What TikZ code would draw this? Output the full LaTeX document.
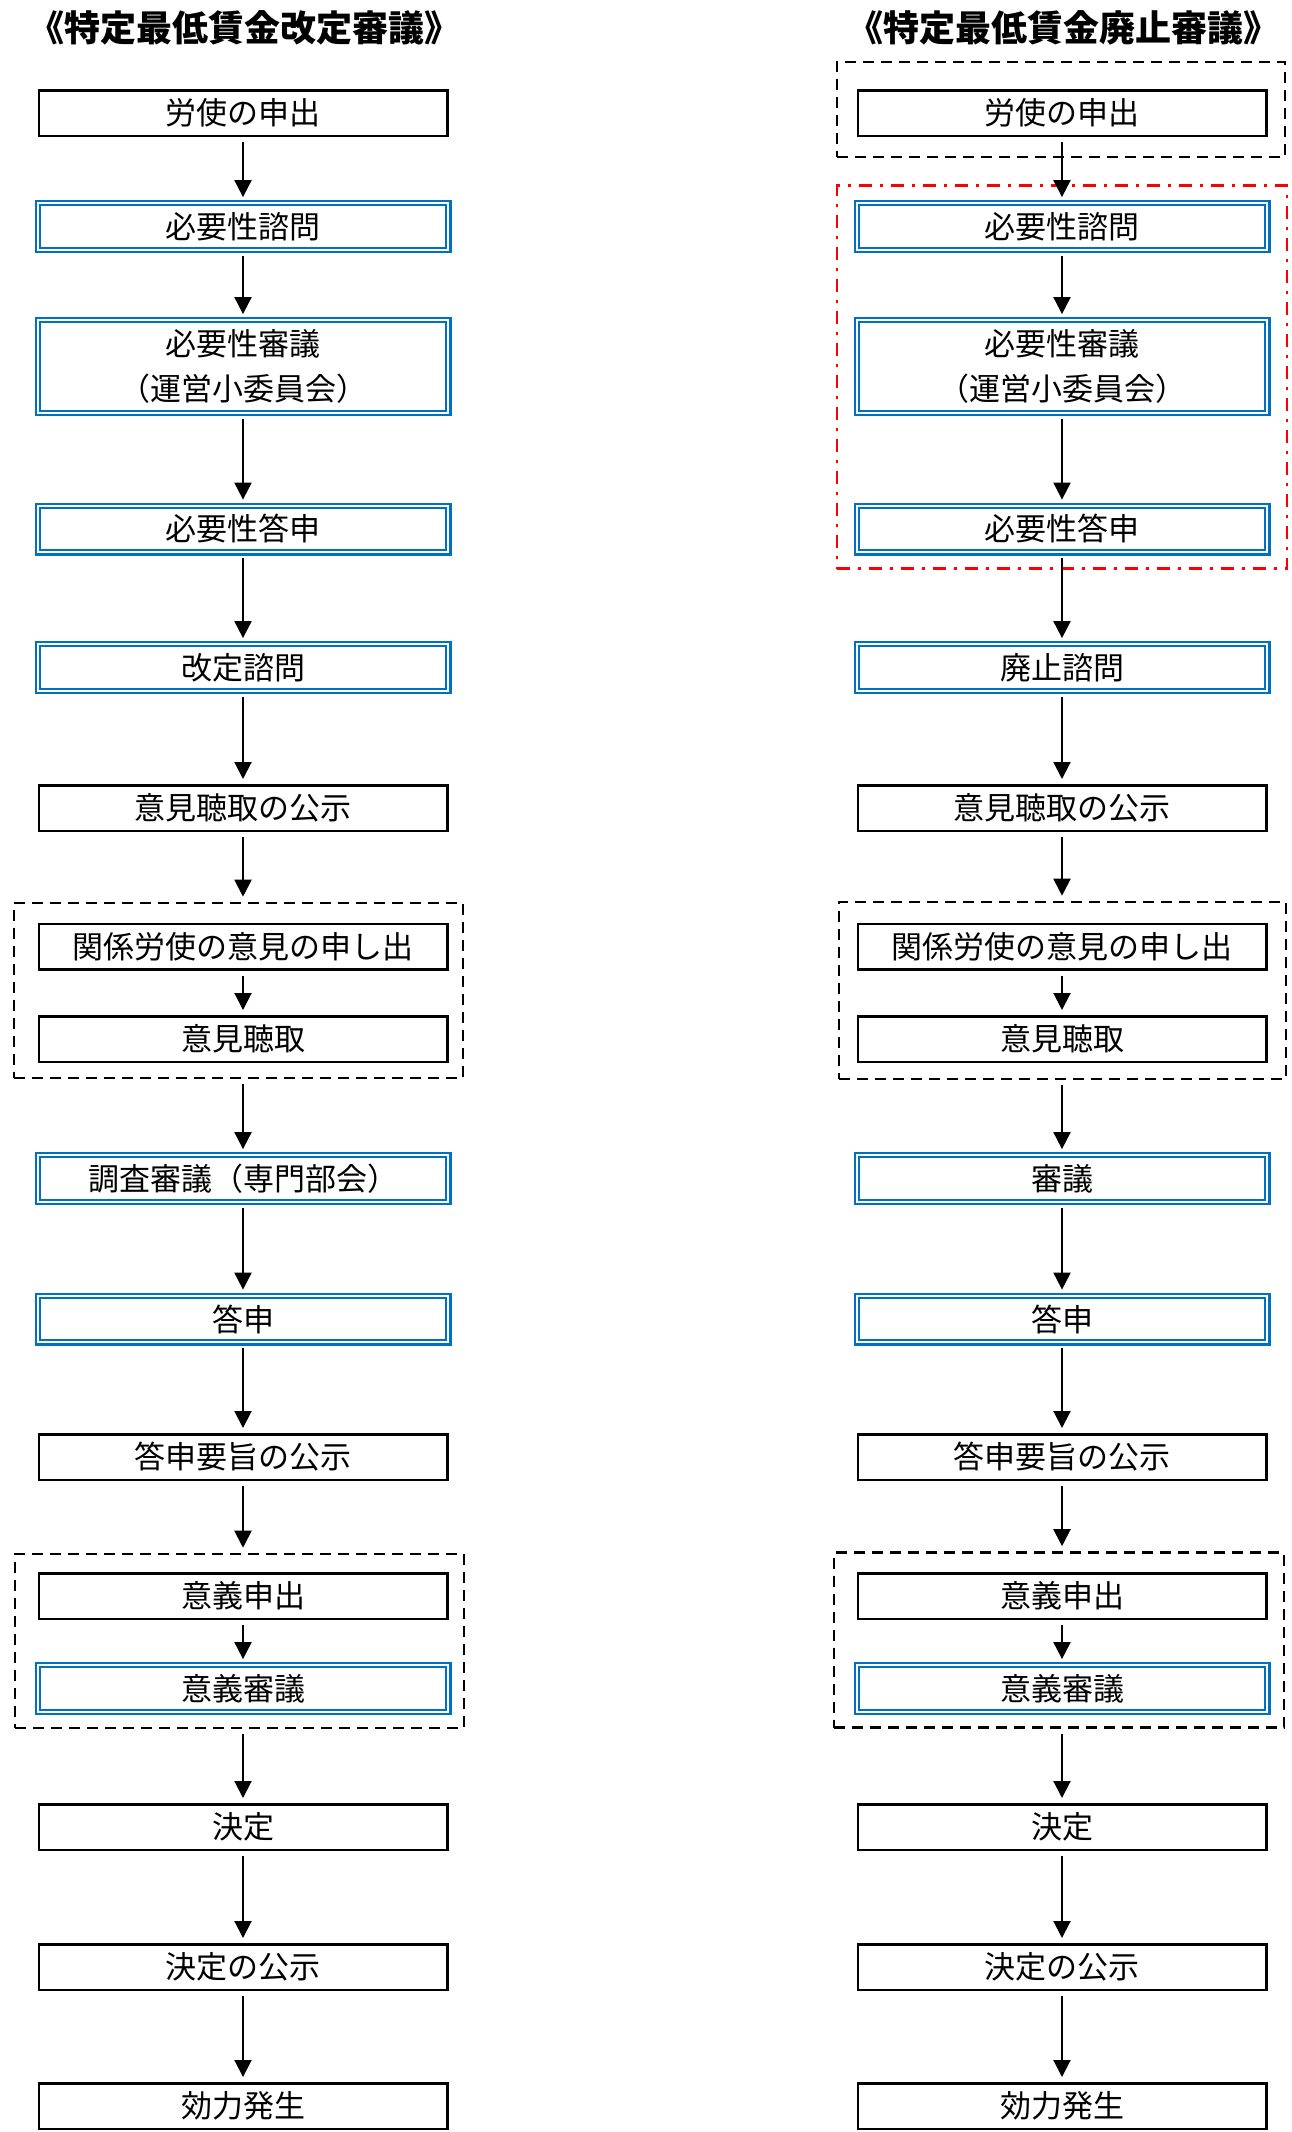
\documentclass[tikz,border=0pt]{standalone}
\usepackage{fontspec}
\newfontfamily\jp{Noto Sans CJK JP}
\newfontfamily\jph{Noto Sans CJK JP}[RawFeature=+halt]
\usetikzlibrary{arrows.meta}
\definecolor{boxblue}{HTML}{0070C0}
\begin{document}
\begin{tikzpicture}[x=0.5pt,y=-0.5pt,
  txt/.style={inner sep=0pt, align=center, font=\jp\fontsize{15.5pt}{22.5pt}\selectfont},
  plainbox/.style={txt, draw=black, line width=1.25pt, minimum width=204.25pt, minimum height=22.75pt},
  bluebox/.style={txt, draw=boxblue, double=white, double distance=1pt, line width=1.1pt, minimum width=205.3pt, minimum height=23.3pt},
  dashbox/.style={draw=black, line width=1.3pt, dash pattern=on 5.5pt off 3.5pt, inner sep=0pt},
  redbox/.style={draw=red, line width=1.4pt, dash pattern=on 6.5pt off 4pt on 1.5pt off 4pt, inner sep=0pt},
  titletxt/.style={inner sep=0pt, font=\jp\bfseries\fontsize{18pt}{20pt}\selectfont},
  arr/.style={-{Triangle[width=8.5pt,length=8.5pt]}, line width=1pt, shorten <=2.5pt, shorten >=2.5pt}
]
\useasboundingbox[fill=white] (0,0) rectangle (1291,2132);

% ---------------- Left column ----------------
\node[titletxt] (Lt) at (244,27.5) {《特定最低賃金改定審議》};
\node[plainbox] (L1) at (243,113) {労使の申出};
\node[bluebox] (L2) at (243,226.5) {必要性諮問};
\node[bluebox, minimum height=46.3pt] (L3) at (243,366.5) {必要性審議\\{\jph （運営小委員会）}};
\node[bluebox] (L4) at (243,529) {必要性答申};
\node[bluebox] (L5) at (243,667.5) {改定諮問};
\node[plainbox] (L6) at (243,808) {意見聴取の公示};
\node[dashbox, minimum width=224.5pt, minimum height=87.5pt] (LD1) at (238.5,990.5) {};
\node[plainbox] (L7a) at (243,946.5) {関係労使の意見の申し出};
\node[plainbox] (L7b) at (243,1039) {意見聴取};
\node[bluebox] (L8) at (243,1178.5) {調査審議（専門部会）};
\node[bluebox] (L9) at (243,1319) {答申};
\node[plainbox] (L10) at (243,1457) {答申要旨の公示};
\node[dashbox, minimum width=224.5pt, minimum height=87pt] (LD2) at (239.5,1641) {};
\node[plainbox] (L11a) at (243,1596) {意義申出};
\node[bluebox] (L11b) at (243,1688.5) {意義審議};
\node[plainbox] (L12) at (243,1827) {決定};
\node[plainbox] (L13) at (243,1967) {決定の公示};
\node[plainbox] (L14) at (243,2106) {効力発生};

\draw[arr] (L1) -- (L2);
\draw[arr] (L2) -- (L3);
\draw[arr] (L3) -- (L4);
\draw[arr] (L4) -- (L5);
\draw[arr] (L5) -- (L6);
\draw[arr] (L6) -- (L6 |- LD1.north);
\draw[arr] (L7a) -- (L7b);
\draw[arr] (L8 |- LD1.south) -- (L8);
\draw[arr] (L8) -- (L9);
\draw[arr] (L9) -- (L10);
\draw[arr] (L10) -- (L10 |- LD2.north);
\draw[arr] (L11a) -- (L11b);
\draw[arr] (L12 |- LD2.south) -- (L12);
\draw[arr] (L12) -- (L13);
\draw[arr] (L13) -- (L14);

% ---------------- Right column ----------------
\node[titletxt] (Rt) at (1063,27.5) {《特定最低賃金廃止審議》};
\node[dashbox, minimum width=224pt, minimum height=47.5pt] (RD0) at (1061,109.5) {};
\node[redbox, minimum width=225pt, minimum height=191.5pt] (RR) at (1062,377) {};
\node[plainbox] (R1) at (1062,113) {労使の申出};
\node[bluebox] (R2) at (1062,226.5) {必要性諮問};
\node[bluebox, minimum height=46.3pt] (R3) at (1062,366.5) {必要性審議\\{\jph （運営小委員会）}};
\node[bluebox] (R4) at (1062,529) {必要性答申};
\node[bluebox] (R5) at (1062,667.5) {廃止諮問};
\node[plainbox] (R6) at (1062,808) {意見聴取の公示};
\node[dashbox, minimum width=223.5pt, minimum height=88.5pt] (RD1) at (1062.5,990.5) {};
\node[plainbox] (R7a) at (1062,946.5) {関係労使の意見の申し出};
\node[plainbox] (R7b) at (1062,1039) {意見聴取};
\node[bluebox] (R8) at (1062,1178.5) {審議};
\node[bluebox] (R9) at (1062,1319) {答申};
\node[plainbox] (R10) at (1062,1457) {答申要旨の公示};
\node[dashbox, minimum width=225pt, minimum height=87.5pt] (RD2) at (1059,1640) {};
\node[plainbox] (R11a) at (1062,1596) {意義申出};
\node[bluebox] (R11b) at (1062,1688.5) {意義審議};
\node[plainbox] (R12) at (1062,1827) {決定};
\node[plainbox] (R13) at (1062,1967) {決定の公示};
\node[plainbox] (R14) at (1062,2106) {効力発生};

\draw[arr] (R1) -- (R2);
\draw[arr] (R2) -- (R3);
\draw[arr] (R3) -- (R4);
\draw[arr] (R4) -- (R5);
\draw[arr] (R5) -- (R6);
\draw[arr] (R6) -- (R6 |- RD1.north);
\draw[arr] (R7a) -- (R7b);
\draw[arr] (R8 |- RD1.south) -- (R8);
\draw[arr] (R8) -- (R9);
\draw[arr] (R9) -- (R10);
\draw[arr] (R10) -- (R10 |- RD2.north);
\draw[arr] (R11a) -- (R11b);
\draw[arr] (R12 |- RD2.south) -- (R12);
\draw[arr] (R12) -- (R13);
\draw[arr] (R13) -- (R14);
\end{tikzpicture}
\end{document}
